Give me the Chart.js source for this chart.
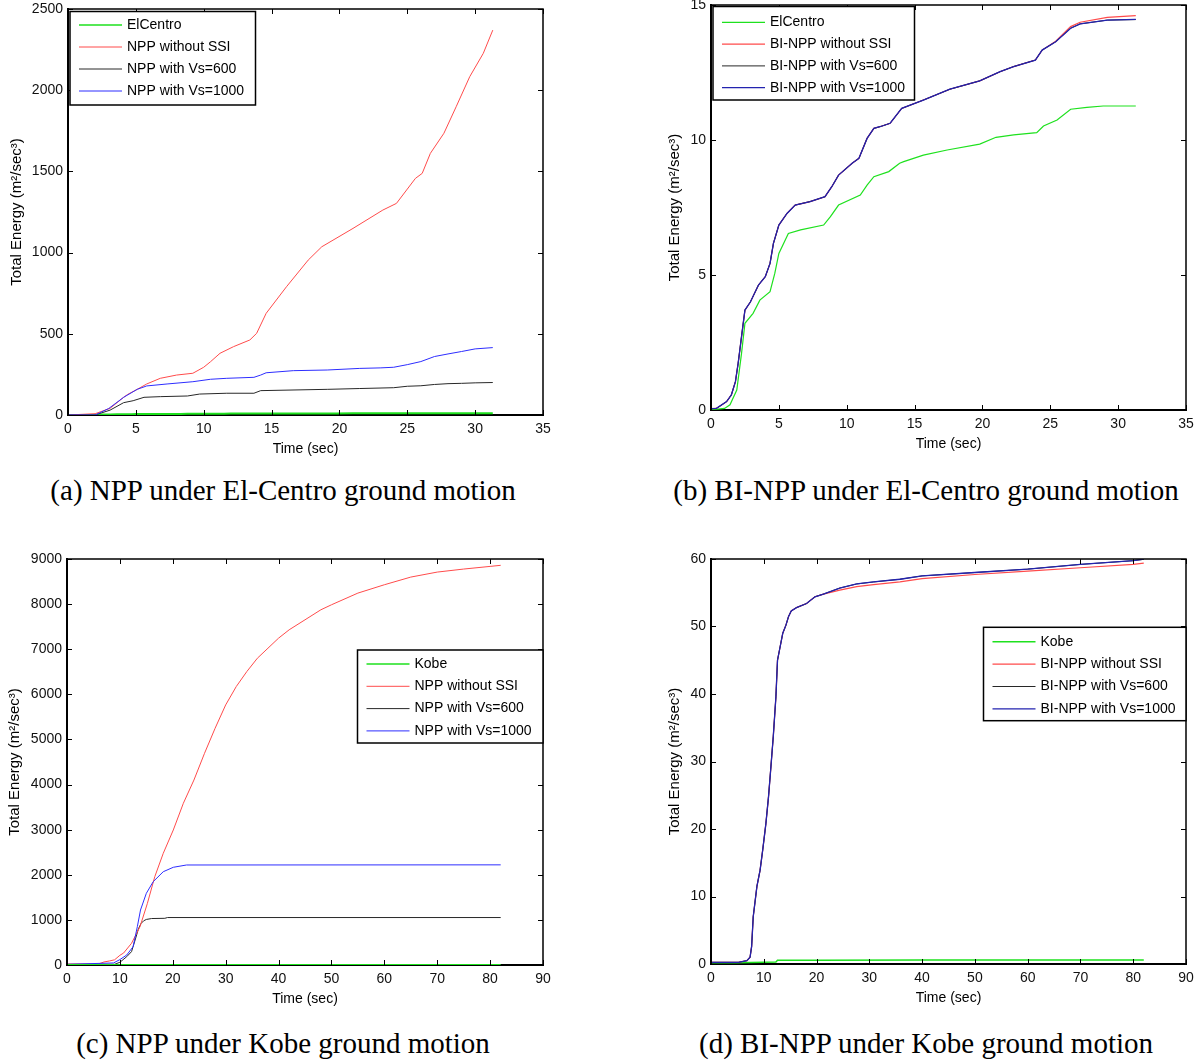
<!DOCTYPE html>
<html>
<head>
<meta charset="utf-8">
<title>Total energy of NPP and BI-NPP under El-Centro and Kobe ground motions</title>
<script src="https://cdn.jsdelivr.net/npm/chart.js@4.4.1/dist/chart.umd.min.js"></script>
<style>
    body { margin: 0; background: #fff; }
    #page { position: relative; width: 1200px; height: 1063px; overflow: hidden; background: #fff; }
    #page canvas { position: absolute; }
    .caption {
        position: absolute; width: 600px; text-align: center;
        font-family: "Liberation Serif", "Times New Roman", serif;
        font-size: 29px; line-height: 34px; color: #000;
    }
</style>
</head>
<body>
<div id="page">
    <canvas id="chart-a" width="600" height="480" style="left:0;top:-10px"></canvas>
    <canvas id="chart-b" width="600" height="480" style="left:600px;top:-10px"></canvas>
    <canvas id="chart-c" width="600" height="480" style="left:0;top:540px"></canvas>
    <canvas id="chart-d" width="600" height="480" style="left:600px;top:540px"></canvas>
    <div class="caption" style="left:-17px;top:473px">(a) NPP under El-Centro ground motion</div>
    <div class="caption" style="left:626px;top:473px">(b) BI-NPP under El-Centro ground motion</div>
    <div class="caption" style="left:-17px;top:1026px">(c) NPP under Kobe ground motion</div>
    <div class="caption" style="left:626px;top:1026px">(d) BI-NPP under Kobe ground motion</div>
</div>
<script>
// ---- data (time in sec, energy in m2/sec3) ----

// El-Centro ground motion (same record in panels a and b)
const elCentroTime = [0, 0.5, 1, 1.4, 1.9, 2.25, 2.5, 3.1, 3.6, 4.35, 4.7, 5, 5.7, 6.6, 8.3, 8.8, 9.4, 11, 11.5, 12, 13.1, 13.9, 14.2, 15.65, 17.4, 19.8, 21, 22.3, 24, 24.5, 25.5, 26.5, 27.7, 28.9, 31.3];
const elCentroEnergy = [0.02, 0.03, 0.06, 0.19, 0.74, 2.1, 3.21, 3.58, 4.07, 4.38, 5.06, 5.8, 6.54, 6.67, 6.85, 7.16, 7.59, 7.96, 8.33, 8.64, 8.83, 9.14, 9.2, 9.44, 9.63, 9.85, 10.1, 10.19, 10.27, 10.52, 10.74, 11.14, 11.21, 11.26, 11.26];

// (a) NPP, El-Centro
const aNoSsiTime = [0, 2, 3.1, 4.1, 4.4, 5.1, 5.8, 6.8, 8, 9.2, 10, 10.5, 11.2, 12.2, 13.4, 13.9, 14.6, 16.1, 17.7, 18.7, 21, 23.2, 24.2, 25.6, 26.1, 26.7, 27.7, 28.6, 29.6, 30.6, 31.3];
const aNoSsiEnergy = [0, 8, 41, 109, 127, 158, 191, 226, 246, 257, 294, 328, 380, 421, 462, 503, 626, 790, 954, 1036, 1149, 1262, 1303, 1457, 1488, 1611, 1735, 1898, 2083, 2227, 2370];
const aVs600Time = [0, 2, 3.1, 4.1, 4.8, 5.6, 6.8, 8.8, 9.7, 11.7, 13.7, 14.2, 19.1, 21.5, 24, 25, 26, 27, 28, 29, 30, 31.3];
const aVs600Energy = [0, 0, 30, 76, 88, 109, 113, 117, 129, 134, 134, 150, 158, 163, 168, 177, 180, 188, 193, 195, 198, 200];
const aVs1000Time = [0, 2, 3, 4.1, 5.1, 5.8, 7.3, 9.2, 10.5, 11.7, 13.7, 14.2, 14.6, 16.6, 19.1, 21.5, 23, 24, 25, 26, 27, 28, 29, 30, 31.3];
const aVs1000Energy = [0, 0, 40, 109, 158, 179, 191, 205, 220, 226, 232, 246, 260, 273, 277, 287, 290, 294, 310, 329, 360, 376, 391, 407, 415];

// (b) BI-NPP, El-Centro (the three structure curves lie almost on top of each other)
const bTime = [0, 0.4, 1.15, 1.5, 1.8, 2, 2.25, 2.5, 2.9, 3.5, 4, 4.35, 4.6, 5, 5.6, 6.2, 7.3, 8.4, 8.9, 9.4, 10.4, 10.9, 11.5, 12, 12.5, 13.2, 14.05, 15.65, 17.6, 19.8, 21.3, 22.3, 23.9, 24.4, 25.4, 26.5, 27.2, 29.2, 31.3];
const bNoSsiEnergy = [0.05, 0.06, 0.31, 0.56, 1.05, 1.73, 2.72, 3.7, 4.0, 4.63, 4.94, 5.43, 6.17, 6.85, 7.28, 7.59, 7.72, 7.9, 8.27, 8.7, 9.14, 9.32, 10.06, 10.43, 10.5, 10.62, 11.17, 11.48, 11.88, 12.19, 12.53, 12.72, 12.96, 13.33, 13.66, 14.2, 14.36, 14.54, 14.61];
const bVs600Energy = [0.05, 0.06, 0.31, 0.56, 1.05, 1.73, 2.72, 3.7, 4.0, 4.63, 4.94, 5.43, 6.17, 6.85, 7.28, 7.59, 7.72, 7.9, 8.27, 8.7, 9.14, 9.32, 10.06, 10.43, 10.5, 10.62, 11.17, 11.48, 11.88, 12.19, 12.53, 12.72, 12.96, 13.33, 13.64, 14.14, 14.3, 14.44, 14.46];
const bVs1000Energy = [0.05, 0.06, 0.31, 0.56, 1.05, 1.73, 2.72, 3.7, 4.0, 4.63, 4.94, 5.43, 6.17, 6.85, 7.28, 7.59, 7.72, 7.9, 8.27, 8.7, 9.14, 9.32, 10.06, 10.43, 10.5, 10.62, 11.17, 11.48, 11.88, 12.19, 12.53, 12.72, 12.96, 13.33, 13.64, 14.14, 14.3, 14.44, 14.47];

// Kobe ground motion (same record in panels c and d)
const kobeTime = [0, 5, 10, 12.3, 12.6, 20, 40, 60, 82];
const kobeEnergy = [0.2, 0.2, 0.25, 0.3, 0.55, 0.57, 0.58, 0.6, 0.6];

// (c) NPP, Kobe
const cNoSsiTime = [0, 6, 7, 8, 9, 10, 10.7, 12.2, 13.8, 15.2, 16.6, 18.2, 20.1, 22, 24, 26, 28, 30, 32, 34, 36, 38, 40, 42, 45, 48, 50, 55, 60, 65, 70, 75, 80, 82];
const cNoSsiEnergy = [20, 25, 67, 89, 115, 215, 265, 481, 849, 1367, 1958, 2476, 2993, 3585, 4100, 4692, 5247, 5765, 6172, 6505, 6801, 7023, 7245, 7430, 7652, 7874, 7985, 8244, 8429, 8599, 8710, 8777, 8836, 8860];
const cVs600Time = [0, 9, 10, 11.3, 12.2, 13, 13.5, 14, 14.5, 15, 16, 18.5, 19, 82];
const cVs600Energy = [15, 15, 60, 185, 296, 600, 800, 920, 980, 1010, 1030, 1035, 1052, 1052];
const cVs1000Time = [0, 8.8, 10, 11.3, 12.5, 13.3, 13.9, 15, 16.3, 18.2, 20.1, 22.6, 82];
const cVs1000Energy = [15, 45, 120, 222, 406, 849, 1219, 1589, 1847, 2068, 2166, 2217, 2220];

// (d) BI-NPP, Kobe
const dTime = [0, 5.2, 6.8, 7.4, 7.7, 8, 8.7, 9.3, 9.8, 10.4, 10.9, 11.3, 11.8, 12.3, 12.6, 13.1, 13.6, 14.2, 14.7, 15.2, 16.2, 18.1, 19.7, 21.3, 24.4, 27.6, 30.8, 35.8, 40, 50, 60, 70, 80, 82];
const dNoSsiEnergy = [0.25, 0.25, 0.5, 1.0, 2.6, 7.0, 11.5, 13.9, 16.9, 20.8, 24.8, 28.7, 33.7, 39.6, 45.0, 47.0, 49.0, 50.2, 51.5, 52.3, 52.8, 53.4, 54.4, 54.8, 55.4, 55.9, 56.2, 56.6, 57.1, 57.7, 58.2, 58.7, 59.2, 59.4];
const dVs600Energy = [0.25, 0.25, 0.5, 1.0, 2.6, 7.0, 11.5, 13.9, 16.9, 20.8, 24.8, 28.7, 33.7, 39.6, 45.0, 47.0, 49.0, 50.2, 51.5, 52.3, 52.8, 53.4, 54.4, 54.8, 55.7, 56.3, 56.6, 57.0, 57.5, 58.0, 58.5, 59.2, 59.75, 59.95];
const dVs1000Energy = [0.25, 0.25, 0.5, 1.0, 2.6, 7.0, 11.5, 13.9, 16.9, 20.8, 24.8, 28.7, 33.7, 39.6, 45.0, 47.0, 49.0, 50.2, 51.5, 52.3, 52.8, 53.4, 54.4, 54.8, 55.7, 56.3, 56.6, 57.0, 57.5, 58.0, 58.5, 59.2, 59.75, 60.0];

// legend labels and axis ticks
const npPLabels = ['ElCentro', 'NPP without SSI', 'NPP with Vs=600', 'NPP with Vs=1000'];
const biNppLabels = ['ElCentro', 'BI-NPP without SSI', 'BI-NPP with Vs=600', 'BI-NPP with Vs=1000'];
const nppKobeLabels = ['Kobe', 'NPP without SSI', 'NPP with Vs=600', 'NPP with Vs=1000'];
const biNppKobeLabels = ['Kobe', 'BI-NPP without SSI', 'BI-NPP with Vs=600', 'BI-NPP with Vs=1000'];
const elCentroTimeTicks = [0, 5, 10, 15, 20, 25, 30, 35];
const kobeTimeTicks = [0, 10, 20, 30, 40, 50, 60, 70, 80, 90];
const aEnergyTicks = [0, 500, 1000, 1500, 2000, 2500];
const bEnergyTicks = [0, 5, 10, 15];
const cEnergyTicks = [0, 1000, 2000, 3000, 4000, 5000, 6000, 7000, 8000, 9000];
const dEnergyTicks = [0, 10, 20, 30, 40, 50, 60];

const GREEN = 'rgb(30,225,30)';
const RED = 'rgb(255,75,75)';
const BLACK = 'rgb(40,40,40)';
const BLUE = 'rgb(45,45,255)';
const NAVY = 'rgb(35,35,175)';

Chart.defaults.font.family = '"Liberation Sans", Arial, sans-serif';
Chart.defaults.font.size = 14;
Chart.defaults.color = '#111';

function series(label, xs, ys, color, width, order) {
    return {
        label: label,
        data: xs.map((x, i) => ({ x: x, y: ys[i] })),
        borderColor: color,
        borderWidth: width,
        order: order,
        pointRadius: 0,
        tension: 0,
        fill: false
    };
}

// matlab style box: inward tick marks on all four sides + top/right edges
const matlabFrame = {
    id: 'matlabFrame',
    afterDatasetsDraw(chart) {
        const { ctx, chartArea: a, scales } = chart;
        ctx.save();
        ctx.strokeStyle = '#000';
        ctx.lineWidth = 1;
        ctx.beginPath();
        scales.x.ticks.forEach(t => {
            const px = Math.round(scales.x.getPixelForValue(t.value)) + 0.5;
            ctx.moveTo(px, a.bottom); ctx.lineTo(px, a.bottom - 5);
            ctx.moveTo(px, a.top); ctx.lineTo(px, a.top + 5);
        });
        scales.y.ticks.forEach(t => {
            const py = Math.round(scales.y.getPixelForValue(t.value)) + 0.5;
            ctx.moveTo(a.left, py); ctx.lineTo(a.left + 5, py);
            ctx.moveTo(a.right, py); ctx.lineTo(a.right - 5, py);
        });
        ctx.stroke();
        ctx.lineWidth = 1.5;
        ctx.beginPath();
        ctx.moveTo(a.left, a.top);
        ctx.lineTo(a.right, a.top);
        ctx.lineTo(a.right, a.bottom);
        ctx.stroke();
        ctx.restore();
    }
};

// boxed legend drawn inside the plot, like the matlab one
const boxLegend = {
    id: 'boxLegend',
    afterDraw(chart, args, o) {
        const ctx = chart.ctx;
        ctx.save();
        ctx.fillStyle = '#fff';
        ctx.fillRect(o.left, o.top, o.right - o.left, o.bottom - o.top);
        ctx.strokeStyle = '#000';
        ctx.lineWidth = 1.5;
        ctx.strokeRect(o.left, o.top, o.right - o.left, o.bottom - o.top);
        ctx.font = '14px "Liberation Sans", Arial, sans-serif';
        ctx.textBaseline = 'middle';
        chart.data.datasets.forEach((ds, i) => {
            const y = o.top + o.first + i * o.gap;
            ctx.strokeStyle = ds.borderColor;
            ctx.lineWidth = Math.min(ds.borderWidth, 1.5);
            ctx.beginPath();
            ctx.moveTo(o.left + 9, y);
            ctx.lineTo(o.left + 52, y);
            ctx.stroke();
            ctx.fillStyle = '#000';
            ctx.fillText(ds.label, o.left + 57, y);
        });
        ctx.restore();
    }
};

function makeChart(id, datasets, cfg) {
    return new Chart(document.getElementById(id), {
        type: 'line',
        data: { datasets: datasets },
        options: {
            responsive: false,
            animation: false,
            events: [],
            layout: { padding: { top: cfg.top, right: cfg.right, left: 0, bottom: 0 } },
            plugins: {
                legend: { display: false },
                tooltip: { enabled: false },
                boxLegend: cfg.legend
            },
            scales: {
                x: {
                    type: 'linear',
                    min: cfg.xTicks[0],
                    max: cfg.xTicks[cfg.xTicks.length - 1],
                    afterBuildTicks: s => { s.ticks = cfg.xTicks.map(v => ({ value: v })); },
                    ticks: { padding: 6, maxRotation: 0, autoSkip: false, callback: v => String(v) },
                    grid: { display: false, drawTicks: false },
                    border: { color: '#000', width: 2 },
                    title: { display: true, text: 'Time (sec)', color: '#000', padding: { top: 0, bottom: cfg.xTitlePad } },
                    afterFit: s => { s.height = cfg.xHeight; }
                },
                y: {
                    type: 'linear',
                    min: cfg.yTicks[0],
                    max: cfg.yTicks[cfg.yTicks.length - 1],
                    afterBuildTicks: s => { s.ticks = cfg.yTicks.map(v => ({ value: v })); },
                    ticks: { padding: 5, autoSkip: false, callback: v => String(v) },
                    grid: { display: false, drawTicks: false },
                    border: { color: '#000', width: 2 },
                    title: {
                        display: true, text: 'Total Energy (m²/sec³)', color: '#000',
                        font: { size: 15, lineHeight: 1.2 },
                        padding: { top: cfg.yTitlePad, bottom: 0 }
                    },
                    afterFit: s => { s.width = cfg.yWidth; }
                }
            }
        },
        plugins: [matlabFrame, boxLegend]
    });
}

// (a)
makeChart('chart-a', [
    series(npPLabels[0], elCentroTime, elCentroEnergy, GREEN, 2, 4),
    series(npPLabels[1], aNoSsiTime, aNoSsiEnergy, RED, 1, 3),
    series(npPLabels[2], aVs600Time, aVs600Energy, BLACK, 1, 2),
    series(npPLabels[3], aVs1000Time, aVs1000Energy, BLUE, 1, 1)
], {
    xTicks: elCentroTimeTicks, yTicks: aEnergyTicks,
    top: 19, right: 57, yWidth: 68, xHeight: 55, yTitlePad: 7.6, xTitlePad: 12.3,
    legend: { left: 70, top: 21.5, right: 255.5, bottom: 115, first: 13.5, gap: 22 }
});

// (b)
makeChart('chart-b', [
    series(biNppLabels[0], elCentroTime, elCentroEnergy, GREEN, 1.2, 4),
    series(biNppLabels[1], bTime, bNoSsiEnergy, RED, 1.2, 3),
    series(biNppLabels[2], bTime, bVs600Energy, BLACK, 1, 2),
    series(biNppLabels[3], bTime, bVs1000Energy, NAVY, 1.3, 1)
], {
    xTicks: elCentroTimeTicks, yTicks: bEnergyTicks,
    top: 15, right: 14, yWidth: 111, xHeight: 60, yTitlePad: 66.1, xTitlePad: 17.6,
    legend: { left: 113, top: 16.5, right: 314.5, bottom: 110, first: 15.8, gap: 21.8 }
});

// (c)
makeChart('chart-c', [
    series(nppKobeLabels[0], kobeTime, kobeEnergy, GREEN, 2, 1),
    series(nppKobeLabels[1], cNoSsiTime, cNoSsiEnergy, RED, 1, 3),
    series(nppKobeLabels[2], cVs600Time, cVs600Energy, BLACK, 1, 4),
    series(nppKobeLabels[3], cVs1000Time, cVs1000Energy, BLUE, 1, 2)
], {
    xTicks: kobeTimeTicks, yTicks: cEnergyTicks,
    top: 19, right: 57, yWidth: 67, xHeight: 55, yTitlePad: 6.3, xTitlePad: 12.3,
    legend: { left: 357.5, top: 110, right: 543, bottom: 203, first: 14, gap: 22.3 }
});

// (d)
makeChart('chart-d', [
    series(biNppKobeLabels[0], kobeTime, kobeEnergy, GREEN, 1.5, 4),
    series(biNppKobeLabels[1], dTime, dNoSsiEnergy, RED, 1.2, 3),
    series(biNppKobeLabels[2], dTime, dVs600Energy, BLACK, 1, 2),
    series(biNppKobeLabels[3], dTime, dVs1000Energy, NAVY, 1.3, 1)
], {
    xTicks: kobeTimeTicks, yTicks: dEnergyTicks,
    top: 19, right: 14, yWidth: 111, xHeight: 56, yTitlePad: 65.6, xTitlePad: 13.9,
    legend: { left: 383.5, top: 87.3, right: 586, bottom: 180.7, first: 14.4, gap: 22.4 }
});
</script>
</body>
</html>
